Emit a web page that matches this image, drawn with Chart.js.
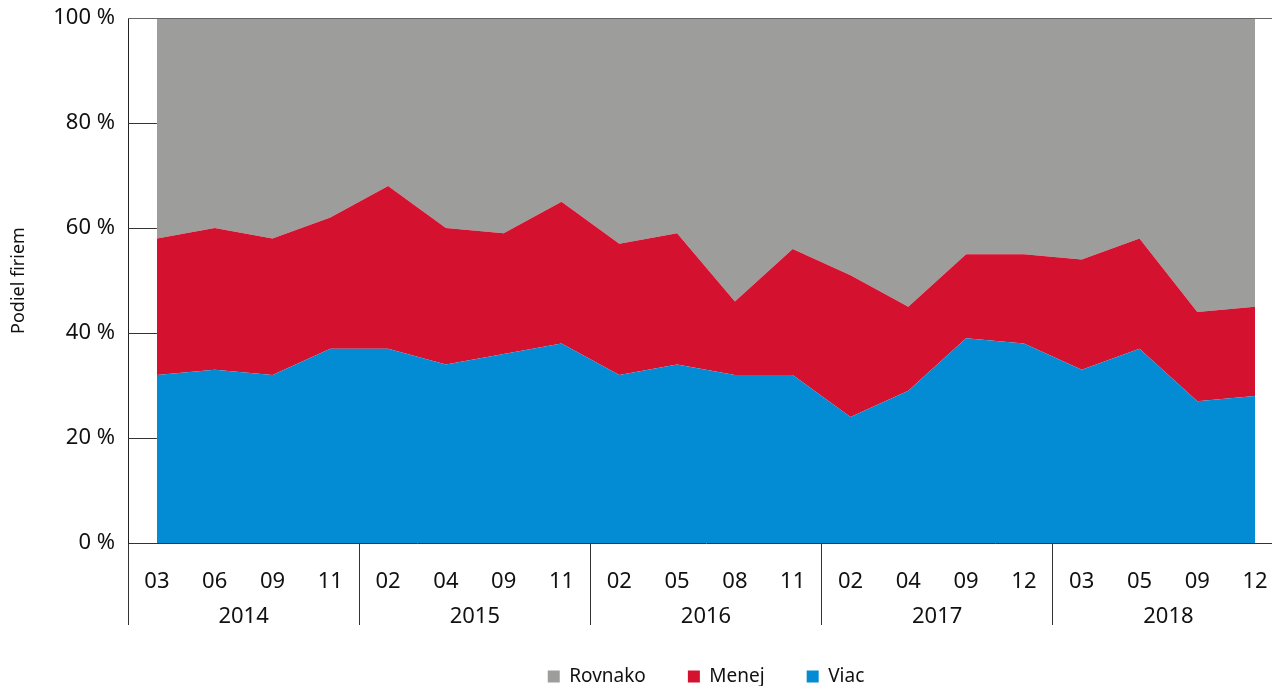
<!DOCTYPE html>
<html>
<head>
<meta charset="utf-8">
<script src="https://cdn.jsdelivr.net/npm/chart.js@4/dist/chart.umd.min.js"></script>
<style>
  html, body { margin: 0; padding: 0; background: #fff; overflow: hidden; }
  #wrap { position: relative; width: 1412px; height: 696px; }
</style>
</head>
<body>
<div id="wrap"><canvas id="c" width="1412" height="696"></canvas></div>
<script>
const months = ['03','06','09','11','02','04','09','11','02','05','08','11','02','04','09','12','03','05','09','12'];
const years = ['2014','2015','2016','2017','2018'];
const viac = [32,33,32,37,37,34,36,38,32,34,32,32,24,29,39,38,33,37,27,28];
const menej = [26,27,26,25,31,26,23,27,25,25,14,24,27,16,16,17,21,21,17,17];
const rovnako = [42,40,42,38,32,40,41,35,43,41,54,44,49,55,45,45,46,42,56,55];
const yTicks = [0,20,40,60,80,100];

const FONT = "'Noto Sans', 'DejaVu Sans', sans-serif";

const axisLines = {
  id: 'axisLines',
  beforeDatasetsDraw(chart) {
    const {ctx, scales: {x, y}, chartArea} = chart;
    const x0 = chartArea.left, x1 = x.getPixelForValue(0);
    ctx.save();
    ctx.strokeStyle = '#333';
    ctx.lineWidth = 1;
    yTicks.forEach(v => {
      if (v > 0 && v < 100) {
        const py = Math.round(y.getPixelForValue(v)) + 0.5;
        ctx.beginPath(); ctx.moveTo(x0, py); ctx.lineTo(x1, py); ctx.stroke();
      }
    });
    ctx.restore();
  },
  afterDatasetsDraw(chart) {
    const {ctx, scales: {y}, chartArea} = chart;
    const py = Math.round(y.getPixelForValue(100)) + 0.5;
    ctx.save();
    ctx.strokeStyle = '#666';
    ctx.lineWidth = 1;
    ctx.beginPath(); ctx.moveTo(chartArea.left, py); ctx.lineTo(chart.width, py); ctx.stroke();
    ctx.restore();
  }
};

new Chart(document.getElementById('c'), {
  type: 'line',
  data: {
    labels: months,
    datasets: [
      { label: 'Viac', data: viac, backgroundColor: '#038bd4', borderWidth: 0, pointRadius: 0, fill: 'origin', tension: 0 },
      { label: 'Menej', data: menej, backgroundColor: '#d51130', borderWidth: 0, pointRadius: 0, fill: '-1', tension: 0 },
      { label: 'Rovnako', data: rovnako, backgroundColor: '#9d9d9c', borderWidth: 0, pointRadius: 0, fill: '-1', tension: 0 }
    ]
  },
  options: {
    responsive: false,
    animation: false,
    events: [],
    layout: { padding: { left: 0, right: 0, top: 18, bottom: 0 } },
    plugins: {
      tooltip: { enabled: false },
      legend: {
        position: 'bottom',
        reverse: true,
        labels: {
          color: '#111',
          font: { family: FONT, size: 19 },
          boxWidth: 12,
          boxHeight: 12,
          padding: 42
        }
      }
    },
    scales: {
      x: {
        type: 'category',
        position: 'bottom',
        weight: 1,
        offset: true,
        border: { display: true, color: '#333', width: 1 },
        grid: {
          offset: true,
          drawOnChartArea: false,
          drawTicks: true,
          tickLength: 59,
          color: ctx => (ctx.index !== undefined && ctx.index % 4 === 0) ? '#333' : 'rgba(0,0,0,0)'
        },
        ticks: {
          autoSkip: false,
          maxRotation: 0,
          padding: -33,
          color: '#111',
          font: { family: FONT, size: 22 }
        },
        afterFit: s => { s.height = 59; }
      },
      x2: {
        type: 'category',
        position: 'bottom',
        weight: 2,
        labels: years,
        offset: true,
        border: { display: false },
        grid: {
          offset: true,
          drawOnChartArea: false,
          drawTicks: true,
          tickLength: 23,
          color: '#333'
        },
        ticks: {
          autoSkip: false,
          maxRotation: 0,
          padding: -21,
          color: '#111',
          font: { family: FONT, size: 22 }
        },
        afterFit: s => { s.height = 23; }
      },
      y: {
        stacked: true,
        min: 0,
        max: 100,
        border: { display: true, color: '#222', width: 1 },
        grid: { display: false, drawTicks: false },
        ticks: {
          stepSize: 20,
          padding: 13,
          color: '#111',
          font: { family: FONT, size: 22 },
          callback: v => v + ' %'
        },
        title: {
          display: true,
          text: 'Podiel firiem',
          color: '#111',
          font: { family: FONT, size: 18 },
          padding: { top: 8, bottom: 0 }
        },
        afterFit: s => { s.width = 128; s.paddingTop = 0; s.paddingBottom = 0; }
      },
      yPad: {
        type: 'linear',
        position: 'right',
        display: true,
        border: { display: false },
        grid: { display: false, drawTicks: false },
        ticks: { display: false },
        afterFit: s => { s.width = 128; s.paddingTop = 0; s.paddingBottom = 0; }
      }
    }
  },
  plugins: [axisLines]
});
</script>
</body>
</html>
